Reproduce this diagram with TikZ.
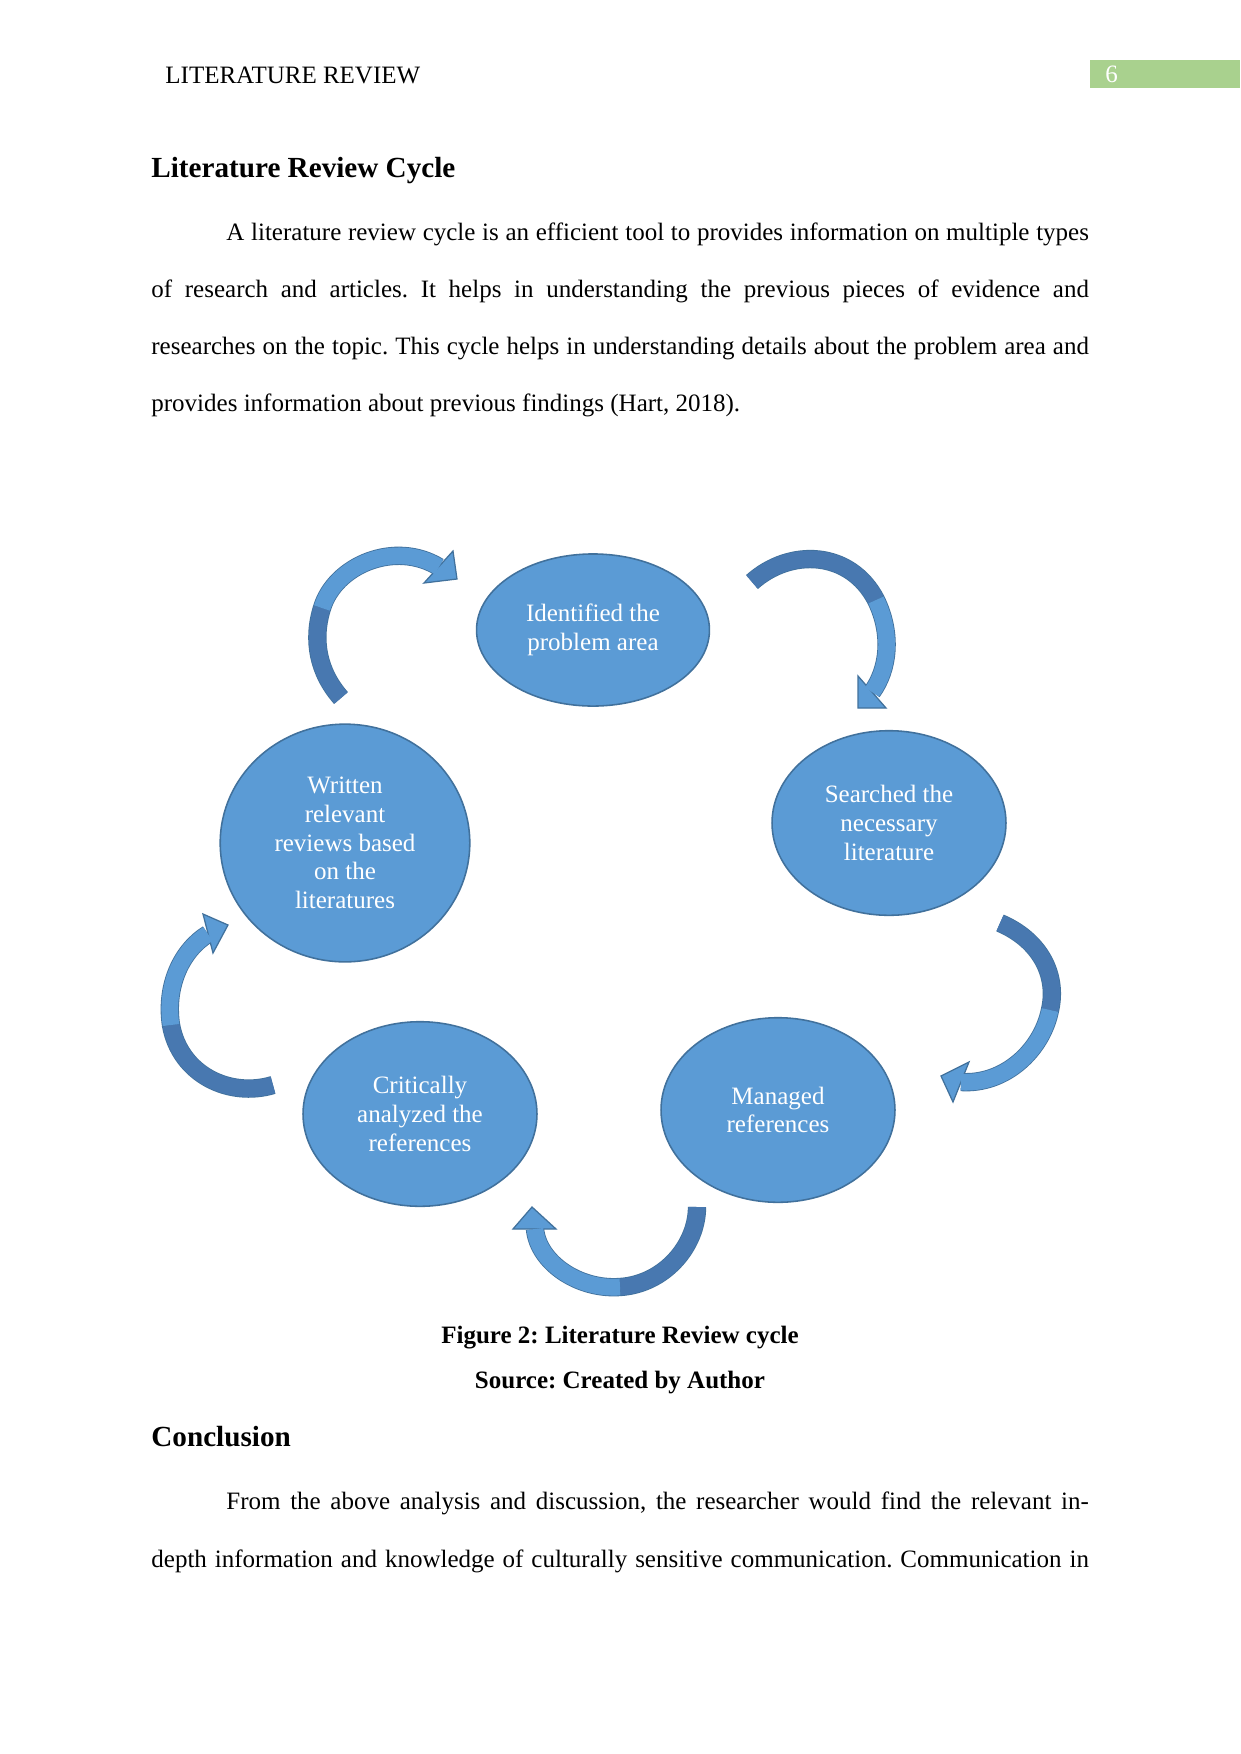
\documentclass[tikz,border=0pt]{standalone}
\usepackage{fontspec}
\setmainfont{Liberation Serif}
\usetikzlibrary{shapes.geometric}
\frenchspacing

\begin{document}
\begin{tikzpicture}[x=0.48pt, y=-0.48pt,
  stage/.style={ellipse, draw=stageEdge, line width=0.75pt, fill=stageBlue,
    text=white, align=center, inner sep=0pt, font=\fontsize{12}{13.8}\selectfont},
  bodyline/.style={anchor=base west, inner sep=0pt, font=\fontsize{12}{13.8}\selectfont},
  headline/.style={anchor=base west, inner sep=0pt, font=\fontsize{14}{16}\selectfont\bfseries},
  figcap/.style={anchor=base, inner sep=0pt, font=\fontsize{12}{13.8}\selectfont\bfseries},
  shaftedge/.style={draw=arrowEdge, line width=8.8pt},
  shaftdark/.style={draw=arrowDark, line width=8pt},
  shaftlight/.style={draw=arrowLight, line width=8pt},
  tiphead/.style={fill=arrowLight, draw=arrowEdge, line width=0.6pt, line join=miter}]

% Colours
\definecolor{stageBlue}{HTML}{5B9BD5}
\definecolor{stageEdge}{HTML}{41719C}
\definecolor{arrowLight}{HTML}{5B9BD5}
\definecolor{arrowDark}{HTML}{4878B0}
\definecolor{arrowEdge}{HTML}{41719C}
\definecolor{pageGreen}{HTML}{A9D18E}

% Page (1 unit = 1 px of the 1241x1754 sheet)
\useasboundingbox (0,0) rectangle (1241,1754);
\fill[white] (0,0) rectangle (1241,1754);

% Running head
\node[bodyline] (runhead) at (165,83) {LITERATURE REVIEW};
\fill[pageGreen] (1090,60) rectangle (1240,88);
\node[bodyline, text=white] (pagenum) at (1105,82) {6};

% Section and paragraph
\node[headline] (title) at (151,177) {Literature Review Cycle};
\node[bodyline] (par1) at (226,240) {\makebox[414pt][s]{A literature review cycle is an efficient tool to provides information on multiple types}};
\node[bodyline] (par2) at (151,297) {\makebox[450pt][s]{of research and articles. It helps in understanding the previous pieces of evidence and}};
\node[bodyline] (par3) at (151,354) {\makebox[450pt][s]{researches on the topic. This cycle helps in understanding details about the problem area and}};
\node[bodyline] (par4) at (151,411) {provides information about previous findings (Hart, 2018).};

% Stages of the cycle
\node[stage, minimum width=111.8pt, minimum height=73pt] (identify) at (593,630) {Identified the\\problem area};
\node[stage, minimum width=112.3pt, minimum height=88.6pt] (search) at (889,823) {Searched the\\necessary\\literature};
\node[stage, minimum width=112.3pt, minimum height=88.6pt] (manage) at (778,1110) {Managed\\references};
\node[stage, minimum width=112.3pt, minimum height=88.6pt] (analyse) at (420,1114) {Critically\\analyzed the\\references};
\node[stage, minimum width=119.8pt, minimum height=114.1pt] (write) at (345,843) {Written\\relevant\\reviews based\\on the\\literatures};

% Curved arrows: tail, bend, head base, tip
\coordinate (aTail) at (341,698);
\coordinate (aBend) at (322,608);
\coordinate (aBase) at (439,567);
\coordinate (bTail) at (752,582);
\coordinate (bBend) at (876,600);
\coordinate (bBase) at (872,692);
\coordinate (cTail) at (1000,923);
\coordinate (cBend) at (1050,1010);
\coordinate (cBase) at (961,1082);
\coordinate (dTail) at (697,1207);
\coordinate (dBend) at (620,1287);
\coordinate (dBase) at (535,1229);
\coordinate (eTail) at (273,1085);
\coordinate (eBend) at (171,1025);
\coordinate (eBase) at (208,934);

% Written -> Identified
\draw[shaftedge] (aTail) .. controls (318,672) and (312,640) .. (aBend) .. controls (335,565) and (395,540) .. (aBase);
\filldraw[tiphead] (453,551) -- (457,579) coordinate (aTip) -- (424,583) -- cycle;
\draw[shaftdark] (aTail) .. controls (318,672) and (312,640) .. (aBend);
\draw[shaftlight] (aBend) .. controls (335,565) and (395,540) .. (aBase);

% Identified -> Searched
\draw[shaftedge] (bTail) .. controls (790,548) and (850,550) .. (bBend) .. controls (893,635) and (888,670) .. (bBase);
\filldraw[tiphead] (858,676) -- (858,708) coordinate (bTip) -- (886,708) -- cycle;
\draw[shaftdark] (bTail) .. controls (790,548) and (850,550) .. (bBend);
\draw[shaftlight] (bBend) .. controls (893,635) and (888,670) .. (bBase);

% Searched -> Managed
\draw[shaftedge] (cTail) .. controls (1040,940) and (1058,975) .. (cBend) .. controls (1042,1050) and (1005,1085) .. (cBase);
\filldraw[tiphead] (969,1062) -- (941,1076) coordinate (cTip) -- (953,1102) -- cycle;
\draw[shaftdark] (cTail) .. controls (1040,940) and (1058,975) .. (cBend);
\draw[shaftlight] (cBend) .. controls (1042,1050) and (1005,1085) .. (cBase);

% Managed -> Critically
\draw[shaftedge] (dTail) .. controls (697,1245) and (665,1284) .. (dBend) .. controls (578,1290) and (538,1262) .. (dBase);
\filldraw[tiphead] (556,1229) -- (532,1207) coordinate (dTip) -- (513,1229) -- cycle;
\draw[shaftdark] (dTail) .. controls (697,1245) and (665,1284) .. (dBend);
\draw[shaftlight] (dBend) .. controls (578,1290) and (538,1262) .. (dBase);

% Critically -> Written
\draw[shaftedge] (eTail) .. controls (230,1098) and (180,1075) .. (eBend) .. controls (165,985) and (182,950) .. (eBase);
\filldraw[tiphead] (213,953) -- (228,925) coordinate (eTip) -- (203,914) -- cycle;
\draw[shaftdark] (eTail) .. controls (230,1098) and (180,1075) .. (eBend);
\draw[shaftlight] (eBend) .. controls (165,985) and (182,950) .. (eBase);

% Caption
\node[figcap] (figtitle) at (620,1343) {Figure 2: Literature Review cycle};
\node[figcap] (figsource) at (620,1388) {Source: Created by Author};

% Conclusion
\node[headline] (concl) at (151,1446) {Conclusion};
\node[bodyline] (conc1) at (226,1509) {\makebox[414pt][s]{From the above analysis and discussion, the researcher would find the relevant in-}};
\node[bodyline] (conc2) at (151,1567) {\makebox[450pt][s]{depth information and knowledge of culturally sensitive communication. Communication in}};

\end{tikzpicture}
\end{document}
